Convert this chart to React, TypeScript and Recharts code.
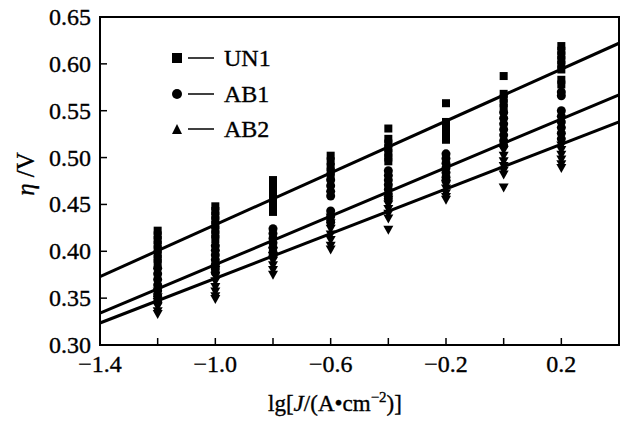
import { ComposedChart, Scatter, XAxis, YAxis, ReferenceArea } from 'recharts'

const FONT = '"Liberation Serif", "Times New Roman", serif'

// lg J positions of the measured columns
const X_POINTS = [-1.2, -1.0, -0.8, -0.6, -0.4, -0.2, 0.0, 0.2]

// overpotential readings per column (V)
const UN1 = [
  [0.422, 0.417, 0.412, 0.407, 0.402, 0.397, 0.392, 0.388],
  [0.448, 0.443, 0.438, 0.433, 0.428, 0.423, 0.418, 0.413],
  [0.476, 0.471, 0.466, 0.461, 0.456, 0.451, 0.446, 0.442],
  [0.502, 0.496, 0.49, 0.485, 0.48],
  [0.531, 0.52, 0.515, 0.51, 0.505, 0.5, 0.496],
  [0.558, 0.538, 0.533, 0.528, 0.523, 0.519],
  [0.587, 0.568, 0.563, 0.558, 0.553],
  [0.619, 0.614, 0.609, 0.604, 0.599, 0.594, 0.583, 0.578],
]
const AB1 = [
  [0.382, 0.376, 0.37, 0.364, 0.358, 0.352, 0.346],
  [0.406, 0.401, 0.396, 0.391, 0.386, 0.381, 0.377],
  [0.424, 0.419, 0.414, 0.409, 0.404, 0.399, 0.395],
  [0.476, 0.47, 0.464, 0.459, 0.443, 0.437, 0.431],
  [0.486, 0.481, 0.476, 0.471, 0.466, 0.461, 0.456],
  [0.504, 0.499, 0.494, 0.489, 0.484, 0.479, 0.475],
  [0.548, 0.542, 0.536, 0.53, 0.524, 0.518, 0.513],
  [0.57, 0.566, 0.55, 0.544, 0.538, 0.532, 0.526, 0.52],
]
const AB2 = [
  [0.357, 0.351, 0.346, 0.341, 0.336, 0.333],
  [0.38, 0.374, 0.368, 0.362, 0.357, 0.352, 0.349],
  [0.4, 0.395, 0.39, 0.385, 0.38, 0.375],
  [0.436, 0.43, 0.424, 0.418, 0.412, 0.406, 0.402],
  [0.455, 0.45, 0.445, 0.44, 0.435, 0.423],
  [0.472, 0.467, 0.462, 0.458, 0.455],
  [0.508, 0.502, 0.496, 0.491, 0.486, 0.482, 0.468],
  [0.513, 0.508, 0.503, 0.498, 0.493, 0.489],
]

// fitted Tafel lines, read at the two plot edges
const FIT_X = [-1.4, 0.4]
const UN1_FIT = [0.373, 0.622]
const AB1_FIT = [0.334, 0.567]
const AB2_FIT = [0.3235, 0.538]

const X_TICKS = [-1.4, -1.2, -1.0, -0.8, -0.6, -0.4, -0.2, 0.0, 0.2, 0.4]
const X_LABELS = ['\u22121.4', '', '\u22121.0', '', '\u22120.6', '', '\u22120.2', '', '0.2', '']
const Y_TICKS = [0.3, 0.35, 0.4, 0.45, 0.5, 0.55, 0.6, 0.65]

const toPoints = (cols: number[][]) =>
  cols.flatMap((vals, i) => vals.map((y) => ({ x: X_POINTS[i], y })))

const toLine = (ys: number[]) => FIT_X.map((x, i) => ({ x, y: ys[i] }))

const Square = ({ cx, cy }: any) => <rect x={cx - 4} y={cy - 4} width={8} height={8} fill="#000" />
const Dot = ({ cx, cy }: any) => <circle cx={cx} cy={cy} r={4.5} fill="#000" />
const TriDown = ({ cx, cy }: any) => (
  <path d={`M${cx - 5},${cy - 4}L${cx + 5},${cy - 4}L${cx},${cy + 5}Z`} fill="#000" />
)
const NoShape = () => <g />

// scanned figure text looks heavier than plain regular weight
const TEXT_STYLE = { fontFamily: FONT, fill: '#000', stroke: '#000', strokeWidth: 0.35 }

const XTick = ({ x, y, index }: any) => (
  <g>
    <line x1={x} y1={y} x2={x} y2={y - 7} stroke="#000" strokeWidth={1.5} />
    <text x={x} y={y + 27} textAnchor="middle" fontSize={24} {...TEXT_STYLE}>
      {X_LABELS[index]}
    </text>
  </g>
)

const YTick = ({ x, y, payload }: any) => (
  <g>
    <line x1={x} y1={y} x2={x + 7} y2={y} stroke="#000" strokeWidth={1.5} />
    <text x={x - 9} y={y + 8} textAnchor="end" fontSize={24} {...TEXT_STYLE}>
      {payload.value.toFixed(2)}
    </text>
  </g>
)

const XTitle = () => (
  <text x={335} y={411} textAnchor="middle" fontSize={23} {...TEXT_STYLE}>
    lg[<tspan fontStyle="italic">J</tspan>/(A•cm
    <tspan dy={-9} fontSize={15}>{'\u22122'}</tspan>
    <tspan dy={9}>)]</tspan>
  </text>
)

const YTitle = () => (
  <text
    x={25}
    y={174}
    transform="rotate(-90, 25, 174)"
    textAnchor="middle"
    dominantBaseline="central"
    fontSize={25}
    {...TEXT_STYLE}
  >
    <tspan fontStyle="italic">η</tspan> /V
  </text>
)

const LEGEND = [
  { name: 'UN1', y: 58, mark: 'square' },
  { name: 'AB1', y: 94, mark: 'circle' },
  { name: 'AB2', y: 129, mark: 'tri' },
]

export default function App() {
  return (
    <div style={{ position: 'absolute', left: 0, top: 0, width: 621, height: 423, background: '#fff' }}>
      <ComposedChart width={621} height={423} margin={{ top: 17, right: 2, bottom: 0, left: 0 }}>
        <XAxis
          type="number"
          dataKey="x"
          domain={[-1.4, 0.4]}
          ticks={X_TICKS}
          allowDataOverflow
          axisLine={false}
          tickLine={false}
          tickSize={0}
          tickMargin={0}
          height={78}
          interval={0}
          tick={<XTick />}
          label={<XTitle />}
        />
        <YAxis
          type="number"
          dataKey="y"
          domain={[0.3, 0.65]}
          ticks={Y_TICKS}
          allowDataOverflow
          axisLine={false}
          tickLine={false}
          tickSize={0}
          tickMargin={0}
          width={100}
          interval={0}
          tick={<YTick />}
          label={<YTitle />}
        />
        <ReferenceArea x1={-1.4} x2={0.4} y1={0.3} y2={0.65} fill="none" fillOpacity={0} stroke="#000" strokeWidth={2} />
        <Scatter name="UN1" data={toPoints(UN1)} shape={<Square />} isAnimationActive={false} />
        <Scatter name="AB1" data={toPoints(AB1)} shape={<Dot />} isAnimationActive={false} />
        <Scatter name="AB2" data={toPoints(AB2)} shape={<TriDown />} isAnimationActive={false} />
        <Scatter data={toLine(UN1_FIT)} line={{ stroke: '#000', strokeWidth: 3 }} shape={<NoShape />} isAnimationActive={false} />
        <Scatter data={toLine(AB1_FIT)} line={{ stroke: '#000', strokeWidth: 3 }} shape={<NoShape />} isAnimationActive={false} />
        <Scatter data={toLine(AB2_FIT)} line={{ stroke: '#000', strokeWidth: 3 }} shape={<NoShape />} isAnimationActive={false} />
      </ComposedChart>
      <svg width={621} height={423} style={{ position: 'absolute', left: 0, top: 0, pointerEvents: 'none' }}>
        {LEGEND.map((l) => (
          <g key={l.name}>
            {l.mark === 'square' && <rect x={172} y={l.y - 5} width={10} height={10} fill="#000" />}
            {l.mark === 'circle' && <circle cx={177} cy={l.y} r={5} fill="#000" />}
            {l.mark === 'tri' && (
              <path d={`M${172},${l.y + 5}L${182},${l.y + 5}L${177},${l.y - 5}Z`} fill="#000" />
            )}
            <line x1={188} y1={l.y} x2={214} y2={l.y} stroke="#000" strokeWidth={1.5} />
            <text x={224} y={l.y + 8} fontSize={24} {...TEXT_STYLE}>
              {l.name}
            </text>
          </g>
        ))}
      </svg>
    </div>
  )
}
